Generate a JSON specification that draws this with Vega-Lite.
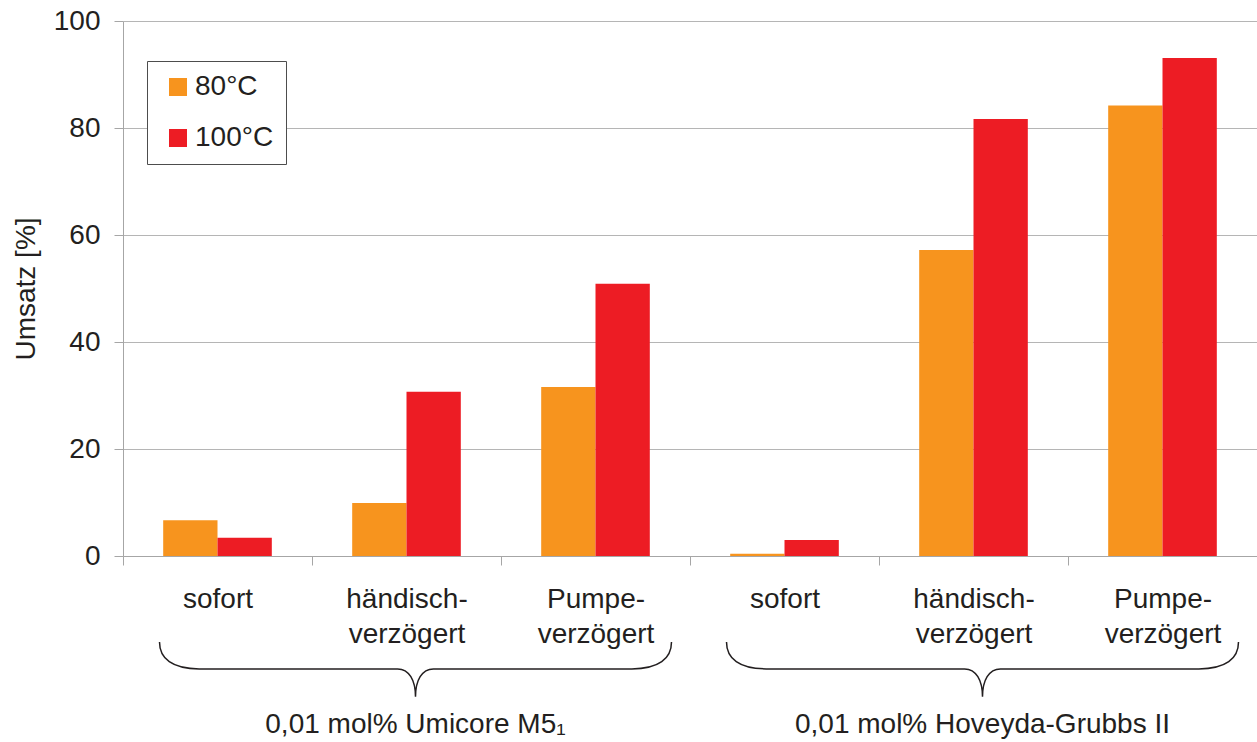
{
  "$schema": "https://vega.github.io/schema/vega-lite/v6.json",
  "width": 1134,
  "height": 535,
  "autosize": {"type": "none"},
  "padding": {"left": 123, "top": 21, "right": 0, "bottom": 186},
  "background": "white",
  "config": {
    "font": "Liberation Sans",
    "view": {"stroke": null},
    "axis": {
      "labelFont": "Liberation Sans",
      "titleFont": "Liberation Sans",
      "labelColor": "#231f20",
      "titleColor": "#231f20",
      "domainColor": "#a6a6a6",
      "tickColor": "#a6a6a6",
      "gridColor": "#b5b5b5",
      "labelFontSize": 28,
      "titleFontSize": 28,
      "titleFontWeight": "normal"
    }
  },
  "datasets": {
    "bars": [
      {"pos": "M5/sofort", "temp": "80°C", "umsatz": 6.7},
      {"pos": "M5/sofort", "temp": "100°C", "umsatz": 3.4},
      {"pos": "M5/händisch-|verzögert", "temp": "80°C", "umsatz": 9.9},
      {"pos": "M5/händisch-|verzögert", "temp": "100°C", "umsatz": 30.7},
      {"pos": "M5/Pumpe-|verzögert", "temp": "80°C", "umsatz": 31.6},
      {"pos": "M5/Pumpe-|verzögert", "temp": "100°C", "umsatz": 50.9},
      {"pos": "HG/sofort", "temp": "80°C", "umsatz": 0.4},
      {"pos": "HG/sofort", "temp": "100°C", "umsatz": 3.0},
      {"pos": "HG/händisch-|verzögert", "temp": "80°C", "umsatz": 57.2},
      {"pos": "HG/händisch-|verzögert", "temp": "100°C", "umsatz": 81.7},
      {"pos": "HG/Pumpe-|verzögert", "temp": "80°C", "umsatz": 84.2},
      {"pos": "HG/Pumpe-|verzögert", "temp": "100°C", "umsatz": 93.1}
    ],
    "groups": [
      {"pos": "M5/händisch-|verzögert", "gruppe": "0,01 mol% Umicore M5₁"},
      {"pos": "HG/händisch-|verzögert", "gruppe": "0,01 mol% Hoveyda-Grubbs II"}
    ]
  },
  "layer": [
    {
      "data": {"name": "bars"},
      "mark": {"type": "bar"},
      "encoding": {
        "x": {
          "field": "pos",
          "type": "nominal",
          "scale": {
            "domain": ["M5/sofort", "M5/händisch-|verzögert", "M5/Pumpe-|verzögert", "HG/sofort", "HG/händisch-|verzögert", "HG/Pumpe-|verzögert"],
            "paddingInner": 0,
            "paddingOuter": 0
          },
          "axis": {
            "title": null,
            "labelAngle": 0,
            "tickBand": "extent",
            "tickSize": 9,
            "labelPadding": 20,
            "labelLineHeight": 35,
            "labelExpr": "isString(datum.value) ? split(split(datum.value, '/')[1], '|') : ''",
            "grid": false
          }
        },
        "xOffset": {
          "field": "temp",
          "type": "nominal",
          "sort": ["80°C", "100°C"],
          "scale": {"paddingInner": 0, "paddingOuter": 0.74}
        },
        "y": {
          "field": "umsatz",
          "type": "quantitative",
          "scale": {"domain": [0, 100], "nice": false},
          "axis": {
            "title": "Umsatz [%]",
            "values": [0, 20, 40, 60, 80, 100],
            "grid": true,
            "tickSize": 9,
            "labelPadding": 14,
            "titlePadding": 13
          }
        },
        "color": {
          "field": "temp",
          "type": "nominal",
          "sort": ["80°C", "100°C"],
          "scale": {"range": ["#F7941E", "#ED1C24"]},
          "legend": {
            "title": null,
            "orient": "none",
            "legendX": 24,
            "legendY": 40,
            "strokeColor": "#4d4d4d",
            "fillColor": "white",
            "padding": 12,
            "symbolOffset": 5,
            "symbolType": "square",
            "symbolSize": 324,
            "symbolStrokeWidth": 0,
            "symbolOpacity": 1,
            "labelFontSize": 28,
            "labelFont": "Liberation Sans",
            "labelColor": "#231f20",
            "labelOffset": 3,
            "rowPadding": 23
          }
        }
      }
    },
    {
      "data": {"name": "groups"},
      "mark": {
        "type": "point",
        "shape": "M-1,-0.105C-1,-0.04 -0.95,0 -0.845,0L-0.07,0C-0.025,0 0,0.045 0,0.109C0,0.045 0.025,0 0.07,0L0.845,0C0.95,0 1,-0.04 1,-0.105",
        "size": 262144,
        "filled": false,
        "stroke": "#231f20",
        "strokeWidth": 1.5,
        "opacity": 1,
        "xOffset": 9
      },
      "encoding": {
        "x": {"field": "pos", "type": "nominal"},
        "y": {"datum": -21.1, "type": "quantitative"}
      }
    },
    {
      "data": {"name": "groups"},
      "mark": {
        "type": "text",
        "fontSize": 28,
        "font": "Liberation Sans",
        "color": "#231f20",
        "baseline": "alphabetic",
        "align": "center",
        "dx": 9
      },
      "encoding": {
        "x": {"field": "pos", "type": "nominal"},
        "y": {"datum": -33.1, "type": "quantitative"},
        "text": {"field": "gruppe"}
      }
    }
  ]
}
